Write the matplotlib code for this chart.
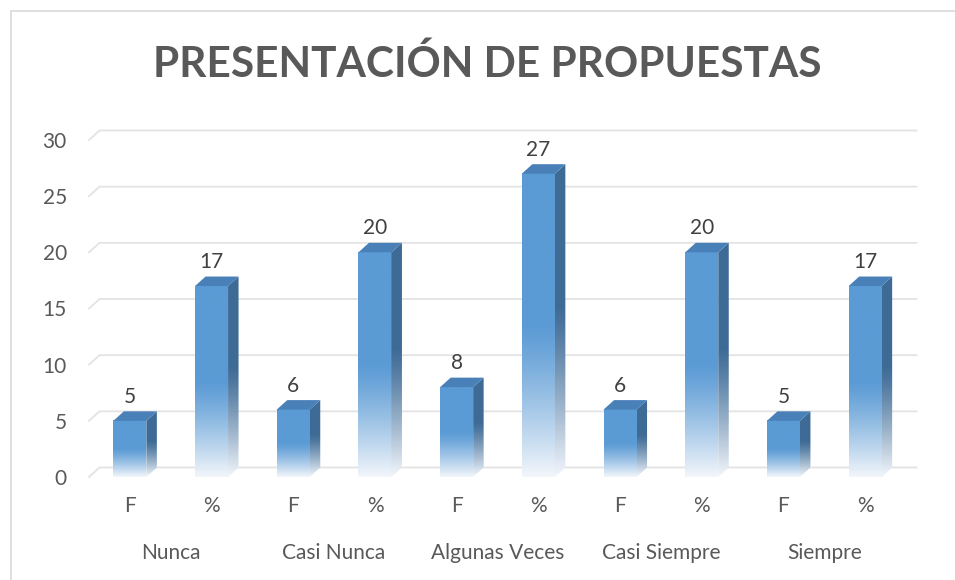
import numpy as np
import matplotlib
matplotlib.use('Agg')
from matplotlib import pyplot as plt
from matplotlib.patches import Polygon, Rectangle
from matplotlib.colors import to_rgb

grupos = ['Nunca', 'Casi Nunca', 'Algunas Veces', 'Casi Siempre', 'Siempre']
series = ['F', '%']
frecuencia = [5, 6, 8, 6, 5]
porcentaje = [17, 20, 27, 20, 17]
yticks = [0, 5, 10, 15, 20, 25, 30]

plt.rcParams['font.family'] = ['Lato', 'DejaVu Sans']
gris = '#595959'

W, H = 955, 580
fig = plt.figure(figsize=(W / 100, H / 100), dpi=100)
ax = fig.add_axes([89 / W, 103 / H, 817 / W, 337 / H])
ax.set_xlim(-0.5, 9.5)
ax.set_ylim(0, 30)

# profundidad 3D en unidades de datos
px_x = 817 / 10
px_y = 337 / 30
dx = 10.5 / px_x
dy = 9.5 / px_y
ancho = 33 / px_x

valores = []
for f, p in zip(frecuencia, porcentaje):
    valores += [f, p]

# rejilla (pared del fondo)
for v in yticks:
    ax.plot([-0.5, -0.5 + dx, 9.5 + dx], [v, v + dy, v + dy], color='#E3E3E3',
            lw=1.3, clip_on=False, zorder=0, solid_joinstyle='miter')

frente = np.array(to_rgb('#5B9BD5'))
lado = np.array(to_rgb('#3E6B96'))
arriba = np.array(to_rgb('#4A80B8'))
claro = np.array(to_rgb('#F2F6FB'))


def degradado(base, corte=0.5, n=200):
    t = np.linspace(0, 1, n)
    m = np.clip((corte - t) / corte, 0, 1) ** 1.2
    c = base[None, :] * (1 - m[:, None]) + claro[None, :] * m[:, None]
    return c[:, None, :]


for i, h in enumerate(valores):
    x0 = i - ancho / 2
    x1 = i + ancho / 2
    # cara frontal
    ax.imshow(degradado(frente, 0.5), extent=[x0, x1, 0, h], origin='lower',
              aspect='auto', interpolation='bilinear', zorder=2)
    # cara lateral
    pol = Polygon([(x1, 0), (x1 + dx, dy), (x1 + dx, h + dy), (x1, h)],
                  closed=True, facecolor='none', edgecolor='none')
    ax.add_patch(pol)
    im = ax.imshow(degradado(lado, 0.55), extent=[x1, x1 + dx, 0, h + dy],
                   origin='lower', aspect='auto', interpolation='bilinear', zorder=2)
    im.set_clip_path(pol)
    # cara superior
    ax.add_patch(Polygon([(x0, h), (x0 + dx, h + dy), (x1 + dx, h + dy), (x1, h)],
                         closed=True, facecolor=arriba, edgecolor='none', zorder=3))
    ax.annotate(str(h), (i, h), xytext=(0, 13), textcoords='offset points',
                ha='center', va='baseline', fontsize=15, color='#404040')

ax.set_xlim(-0.5, 9.5)
ax.set_ylim(0, 30)
for s in ax.spines.values():
    s.set_visible(False)
ax.set_yticks(yticks)
ax.tick_params(axis='y', length=0, pad=16, labelsize=15, labelcolor=gris)
ax.set_xticks(range(10))
ax.set_xticklabels(series * 5)
ax.tick_params(axis='x', length=0, pad=14, labelsize=15, labelcolor=gris)

tr = ax.get_xaxis_transform()
for g, nombre in enumerate(grupos):
    ax.text(2 * g + 0.5, -0.2255, nombre, transform=tr, ha='center', va='center',
            fontsize=15, color=gris)

fig.text(0.5105, (H - 77) / H, 'PRESENTACIÓN DE PROPUESTAS', ha='center',
         va='baseline', fontsize=30.5, fontweight='bold', color=gris)

fig.add_artist(Rectangle((11 / W, -0.1), 1.2, (H - 11) / H + 0.1,
                         transform=fig.transFigure, fill=False,
                         edgecolor='#D9D9D9', lw=1.2))

fig.savefig('out.png', dpi=100)
